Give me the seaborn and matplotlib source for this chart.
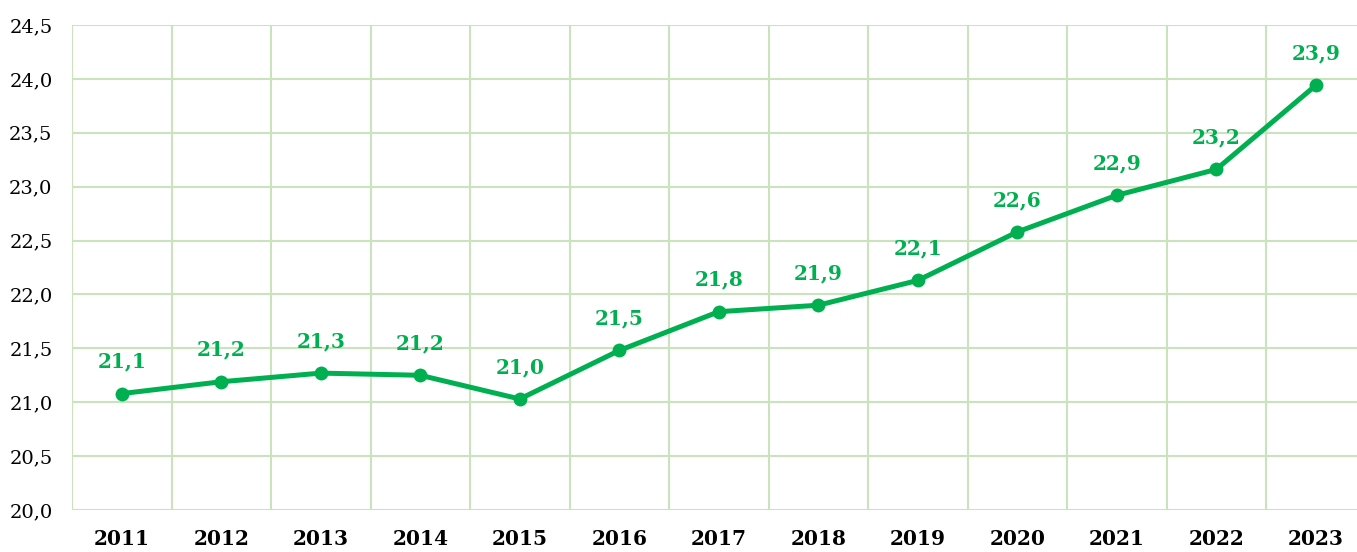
import matplotlib
matplotlib.use("Agg")
import matplotlib.pyplot as plt
import seaborn as sns
import pandas as pd
import numpy as np

# данные
years = ["2011", "2012", "2013", "2014", "2015", "2016", "2017",
         "2018", "2019", "2020", "2021", "2022", "2023"]
values = [21.08, 21.19, 21.27, 21.25, 21.03, 21.48, 21.84,
          21.90, 22.13, 22.58, 22.92, 23.16, 23.94]
labels = ["21,1", "21,2", "21,3", "21,2", "21,0", "21,5", "21,8",
          "21,9", "22,1", "22,6", "22,9", "23,2", "23,9"]

line_color = "#00B050"
grid_color = "#C9E4BD"

sns.set_theme(style="white")
plt.rcParams["font.family"] = ["DejaVu Serif"]

df = pd.DataFrame({"year": years, "value": values})
df["pos"] = np.arange(len(years))

fig = plt.figure(figsize=(13.57, 5.52), dpi=100)
ax = fig.add_axes([72 / 1357, 1 - 510 / 552, 1293.5 / 1357, 485 / 552])

sns.lineplot(data=df, x="pos", y="value", color=line_color, linewidth=3.6,
             marker="o", markersize=10, markeredgewidth=0, ax=ax, zorder=3)

for x, y, t in zip(df["pos"], values, labels):
    ax.annotate(t, (x, y), xytext=(0, 23), textcoords="offset points",
                ha="center", va="center", color=line_color,
                fontsize=14.5, fontweight="bold")

ax.set_xlim(-0.5, len(years) - 0.5)
ax.set_ylim(20.0, 24.5)
ax.set_yticks(np.arange(20.0, 24.51, 0.5))
ax.set_yticklabels([f"{v:.1f}".replace(".", ",") for v in np.arange(20.0, 24.51, 0.5)],
                   fontsize=14, color="black")
ax.set_xticks(df["pos"])
ax.set_xticklabels(years, fontsize=14.5, fontweight="bold", color="black")
ax.set_xticks(np.arange(-0.5, len(years), 1), minor=True)

ax.grid(False)
ax.yaxis.grid(True, color=grid_color, linewidth=1.5)
ax.xaxis.grid(True, which="minor", color=grid_color, linewidth=1.5)
ax.tick_params(axis="both", which="both", length=0)
ax.tick_params(axis="x", pad=14)
ax.tick_params(axis="y", pad=14)
for s in ax.spines.values():
    s.set_visible(False)
ax.set_xlabel("")
ax.set_ylabel("")
ax.set_axisbelow(True)

fig.savefig("out.png", dpi=100)
